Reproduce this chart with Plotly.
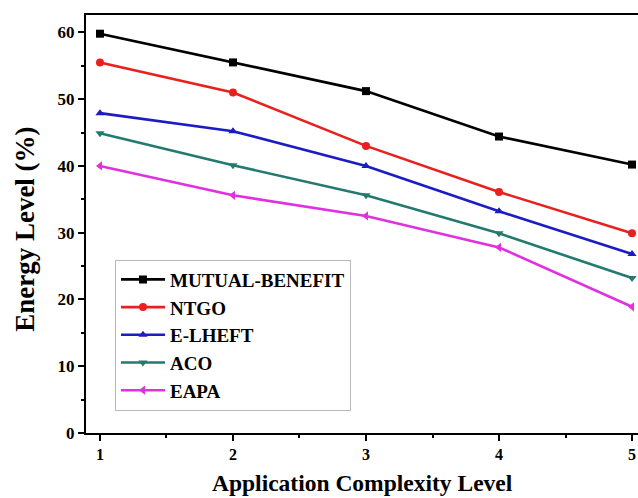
import plotly.graph_objects as go

x_levels = [1, 2, 3, 4, 5]
mutual_benefit = [59.8, 55.5, 51.2, 44.4, 40.2]
ntgo = [55.5, 51.0, 43.0, 36.1, 29.9]
e_lheft = [47.9, 45.2, 40.0, 33.2, 26.8]
aco = [44.9, 40.1, 35.6, 29.9, 23.2]
eapa = [40.0, 35.6, 32.5, 27.8, 18.9]

series = [
    ("MUTUAL-BENEFIT", mutual_benefit, "#000000", "square"),
    ("NTGO", ntgo, "#e8201e", "circle"),
    ("E-LHEFT", e_lheft, "#1c1cc4", "triangle-up"),
    ("ACO", aco, "#237a6e", "triangle-down"),
    ("EAPA", eapa, "#e030e0", "triangle-left"),
]

FONT = "Liberation Serif"

fig = go.Figure()
for name, vals, col, sym in series:
    fig.add_trace(go.Scatter(
        x=x_levels, y=vals, name=name, mode="lines+markers",
        line=dict(color=col, width=2.6),
        marker=dict(symbol=sym, size=8, color=col),
    ))

fig.update_layout(
    width=638, height=498,
    margin=dict(l=86, r=0, t=15, b=65),
    plot_bgcolor="white", paper_bgcolor="white",
    font=dict(family=FONT, color="black", size=17, weight="bold"),
    showlegend=True,
    legend=dict(
        x=0.0525, y=0.415, xanchor="left", yanchor="top",
        bgcolor="white", bordercolor="#b8b8b8", borderwidth=1,
        font=dict(family=FONT, size=19, weight="bold"),
        itemwidth=44, tracegroupgap=0,
    ),
    xaxis=dict(
        range=[0.895, 5.045], tickvals=x_levels,
        showline=True, linecolor="black", linewidth=2, mirror=True,
        ticks="outside", ticklen=6, tickwidth=2, tickcolor="black",
        minor=dict(ticks="outside", ticklen=3, tickwidth=2, dtick=0.5, tick0=1, tickcolor="black"),
        showgrid=False, zeroline=False,
        tickfont=dict(family=FONT, size=16, weight="bold"),
    ),
    yaxis=dict(
        range=[0, 62.6], tickvals=[0, 10, 20, 30, 40, 50, 60],
        showline=True, linecolor="black", linewidth=2, mirror=False,
        ticks="outside", ticklen=6, tickwidth=2, tickcolor="black",
        minor=dict(ticks="outside", ticklen=3, tickwidth=2, dtick=5, tick0=0, tickcolor="black"),
        showgrid=False, zeroline=False,
        tickfont=dict(family=FONT, size=17, weight="bold"),
    ),
    annotations=[
        dict(text="Application Complexity Level", xref="paper", yref="paper",
             x=0.5, y=-0.12, xanchor="center", yanchor="middle", showarrow=False,
             font=dict(family=FONT, size=23.5, weight="bold")),
        dict(text="Energy Level (%)", xref="paper", yref="paper",
             x=-0.1105, y=0.486, xanchor="center", yanchor="middle", showarrow=False,
             textangle=-90, font=dict(family=FONT, size=27, weight="bold")),
    ],
)

fig.write_html("out.html", config={"displayModeBar": False},
               post_script="document.body.style.margin='0px';")
